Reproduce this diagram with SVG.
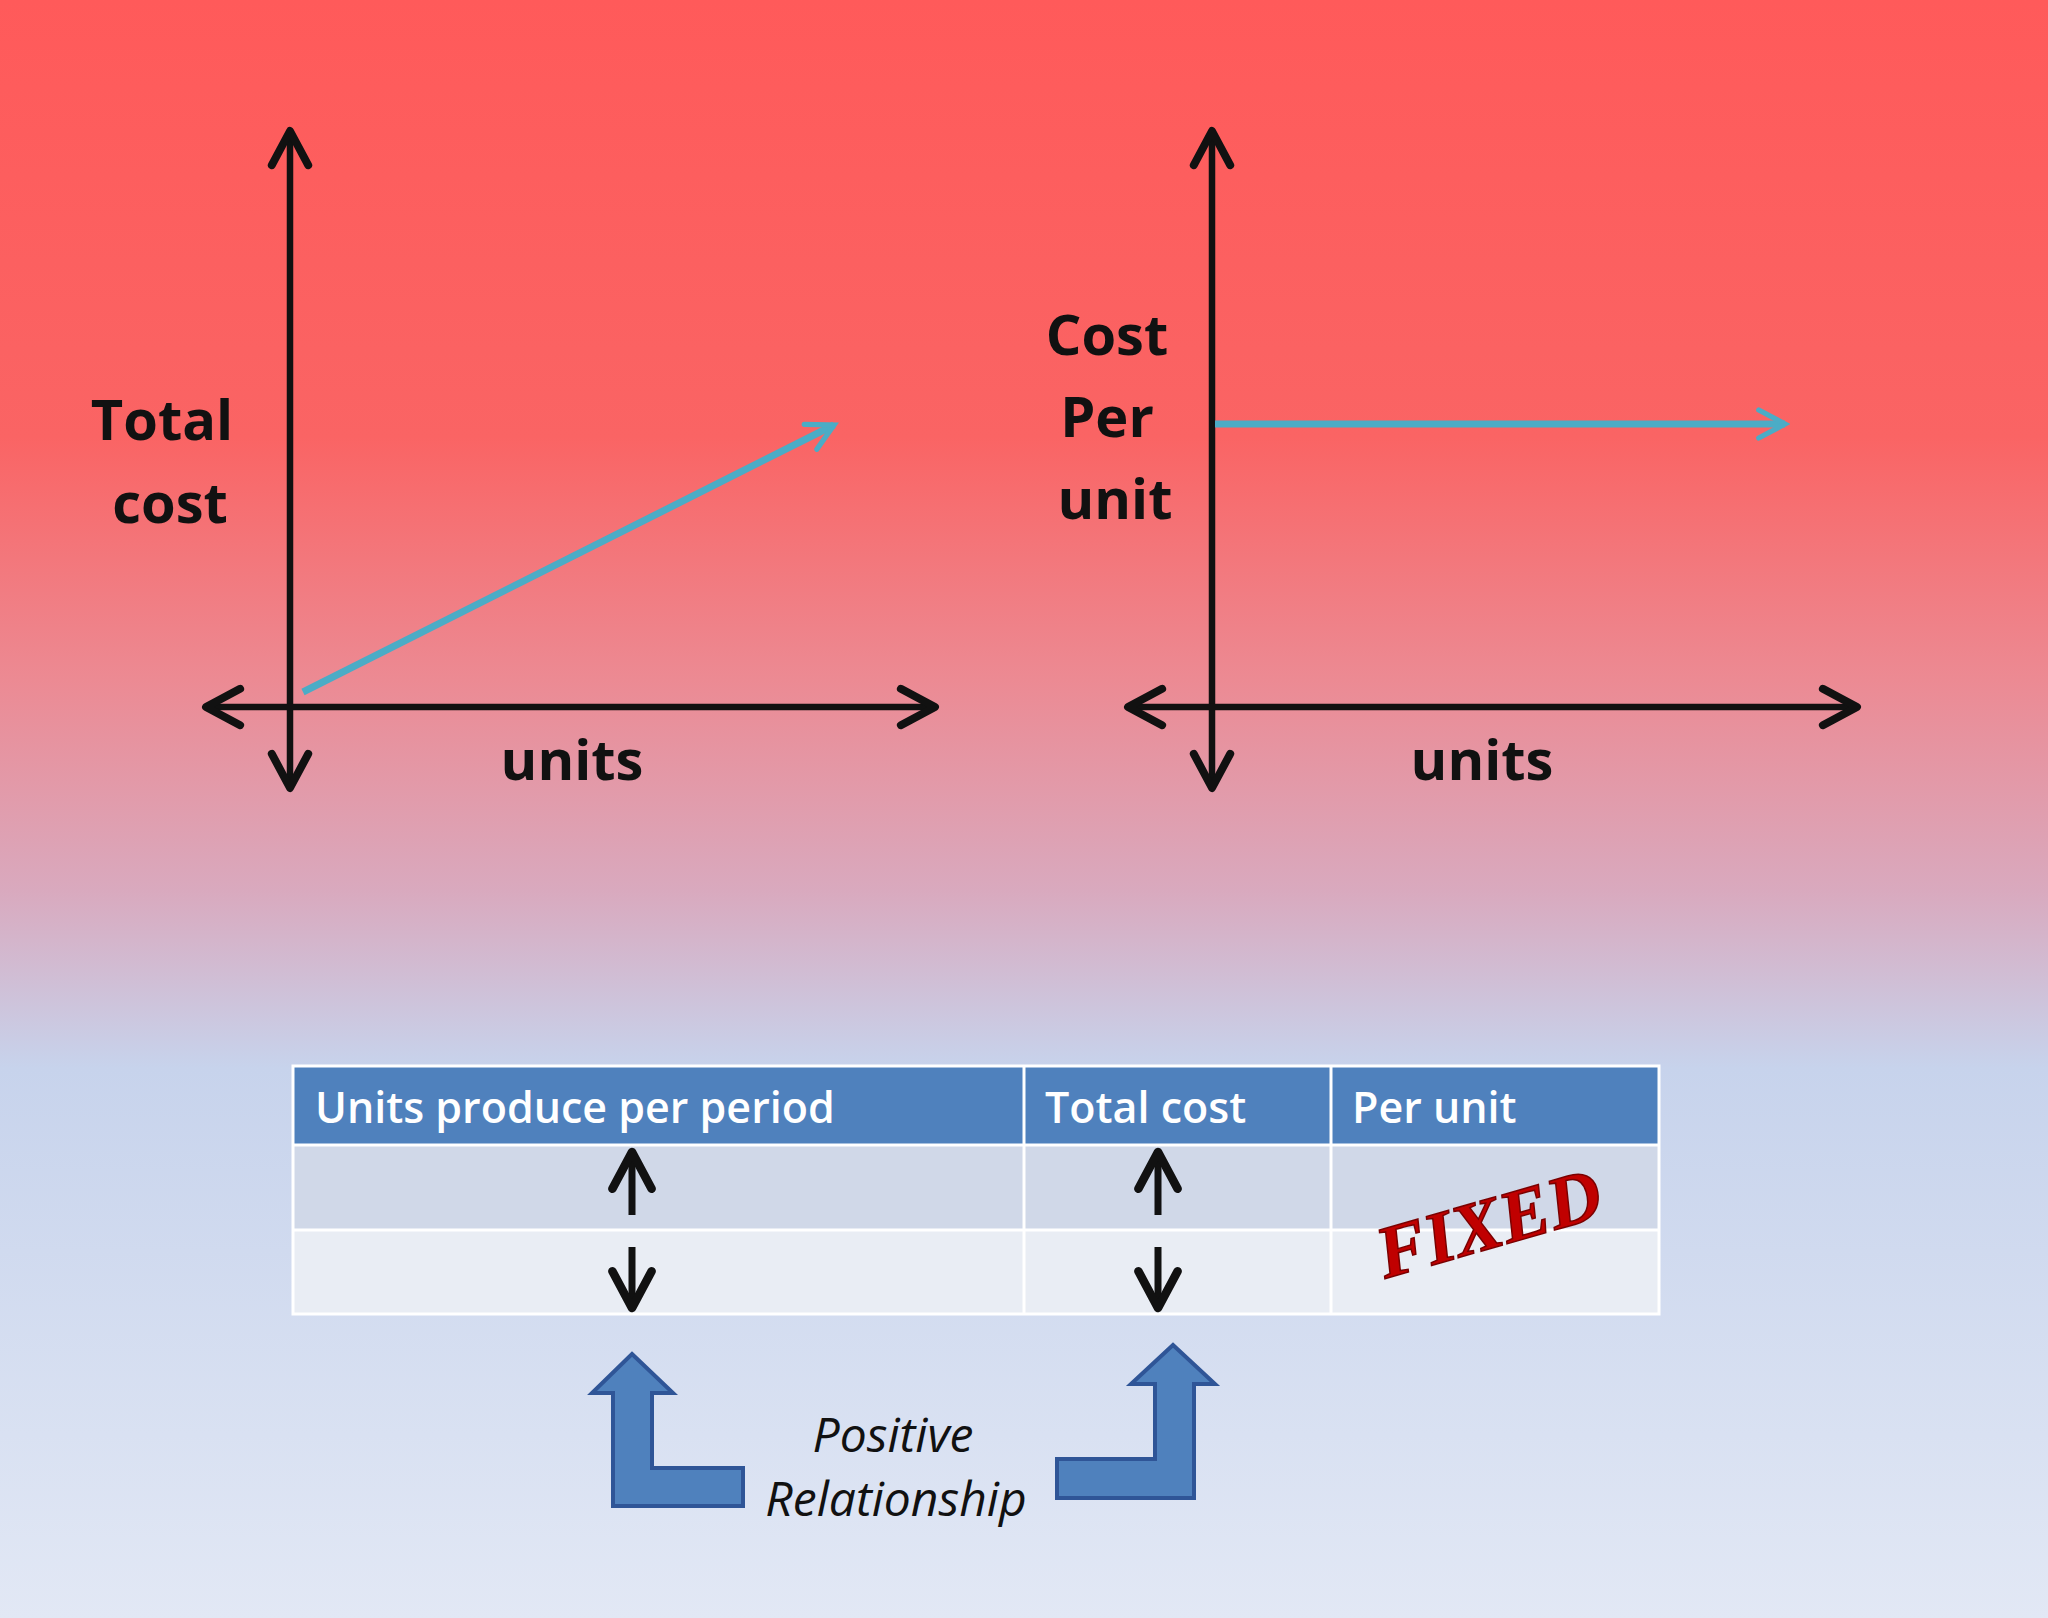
<svg xmlns="http://www.w3.org/2000/svg" width="2048" height="1618" viewBox="0 0 2048 1618">
<defs>
<linearGradient id="bg" x1="0" y1="0" x2="0" y2="1">
<stop offset="0" stop-color="#FF5A5A"/>
<stop offset="0.27" stop-color="#FA6464"/>
<stop offset="0.42" stop-color="#EC8A93"/>
<stop offset="0.55" stop-color="#D9A9BE"/>
<stop offset="0.66" stop-color="#C7D3EC"/>
<stop offset="1" stop-color="#E2E8F5"/>
</linearGradient>
<marker id="ah" viewBox="0 0 20 20" refX="17" refY="10" markerWidth="7" markerHeight="7" orient="auto-start-reverse" markerUnits="strokeWidth"><path d="M2,2 L17,10 L2,18" fill="none" stroke="context-stroke" stroke-width="3.5" stroke-linecap="round" stroke-linejoin="round"/></marker>
<marker id="bh" viewBox="0 0 20 20" refX="17" refY="10" markerWidth="5" markerHeight="5" orient="auto" markerUnits="strokeWidth"><path d="M2,2 L17,10 L2,18" fill="none" stroke="#4BACC6" stroke-width="3" stroke-linecap="round"/></marker>
</defs>
<style>
.ax{stroke:#111;stroke-width:6.5;fill:none}
.bl{stroke:#4BACC6;stroke-width:7;fill:none}
.lb{font-family:"Open Sans",sans-serif;font-weight:bold;font-size:56px;fill:#111;text-anchor:middle}
.th{font-family:"Open Sans",sans-serif;font-weight:600;font-size:43px;fill:#fff}
.cl{stroke:#fff;stroke-width:3}
.ta{stroke:#111;stroke-width:7;fill:none}
.ba{fill:#4F81BD;stroke:#2F5597;stroke-width:4}
.it{font-family:"Open Sans",sans-serif;font-style:italic;font-size:48px;fill:#111;text-anchor:middle}
</style>
<rect width="2048" height="1618" fill="url(#bg)"/>
<g id="connectors">
<line class="ax" x1="290" y1="788" x2="290" y2="131" marker-start="url(#ah)" marker-end="url(#ah)"/>
<line class="ax" x1="206" y1="707" x2="935" y2="707" marker-start="url(#ah)" marker-end="url(#ah)"/>
<line class="bl" x1="303" y1="692" x2="834" y2="425" marker-end="url(#bh)"/>
<line class="ax" x1="1212" y1="788" x2="1212" y2="131" marker-start="url(#ah)" marker-end="url(#ah)"/>
<line class="ax" x1="1128" y1="707" x2="1857" y2="707" marker-start="url(#ah)" marker-end="url(#ah)"/>
<line class="bl" x1="1215" y1="424" x2="1785" y2="424" marker-end="url(#bh)"/>
</g>
<g id="labels-left">
<text class="lb" x="162" y="440">Total</text>
<text class="lb" x="170" y="523">cost</text>
<text class="lb" x="572" y="780">units</text>
</g>
<g id="labels-right">
<text class="lb" x="1107" y="355">Cost</text>
<text class="lb" x="1107" y="437">Per</text>
<text class="lb" x="1115" y="519">unit</text>
<text class="lb" x="1482" y="780">units</text>
</g>
<g id="table">
<rect x="293" y="1066" width="1366" height="79" fill="#4F81BD"/>
<rect x="293" y="1145" width="1366" height="85" fill="#D0D8E8"/>
<rect x="293" y="1230" width="1366" height="84" fill="#E9EDF4"/>
<rect x="293" y="1066" width="1366" height="248" fill="none" class="cl"/>
<line class="cl" x1="293" y1="1145" x2="1659" y2="1145" stroke-width="4"/>
<line class="cl" x1="293" y1="1230" x2="1659" y2="1230"/>
<line class="cl" x1="1024" y1="1066" x2="1024" y2="1314"/>
<line class="cl" x1="1331" y1="1066" x2="1331" y2="1314"/>
<text class="th" x="315" y="1123">Units produce per period</text>
<text class="th" x="1045" y="1123">Total cost</text>
<text class="th" x="1352" y="1123">Per unit</text>
<line class="ta" x1="632" y1="1215" x2="632" y2="1152" marker-end="url(#ah)"/>
<line class="ta" x1="632" y1="1247" x2="632" y2="1308" marker-end="url(#ah)"/>
<line class="ta" x1="1158" y1="1215" x2="1158" y2="1152" marker-end="url(#ah)"/>
<line class="ta" x1="1158" y1="1247" x2="1158" y2="1308" marker-end="url(#ah)"/>
<text x="1489" y="1248" transform="rotate(-16 1489 1224)" font-family="'Liberation Serif',serif" font-weight="bold" font-style="italic" font-size="74" fill="#C00000" stroke="#7A0000" stroke-width="1.5" text-anchor="middle">FIXED</text>
</g>
<g id="bent-left">
<path class="ba" d="M632,1354 L673,1393 L652,1393 L652,1468 L743,1468 L743,1506 L613,1506 L613,1393 L592,1393 Z"/>
</g>
<g id="bent-right">
<path class="ba" d="M1173,1345 L1215,1384 L1194,1384 L1194,1498 L1057,1498 L1057,1459 L1155,1459 L1155,1384 L1131,1384 Z"/>
</g>
<g id="relationship">
<text class="it" x="893" y="1452">Positive</text>
<text class="it" x="896" y="1516">Relationship</text>
</g>
</svg>
